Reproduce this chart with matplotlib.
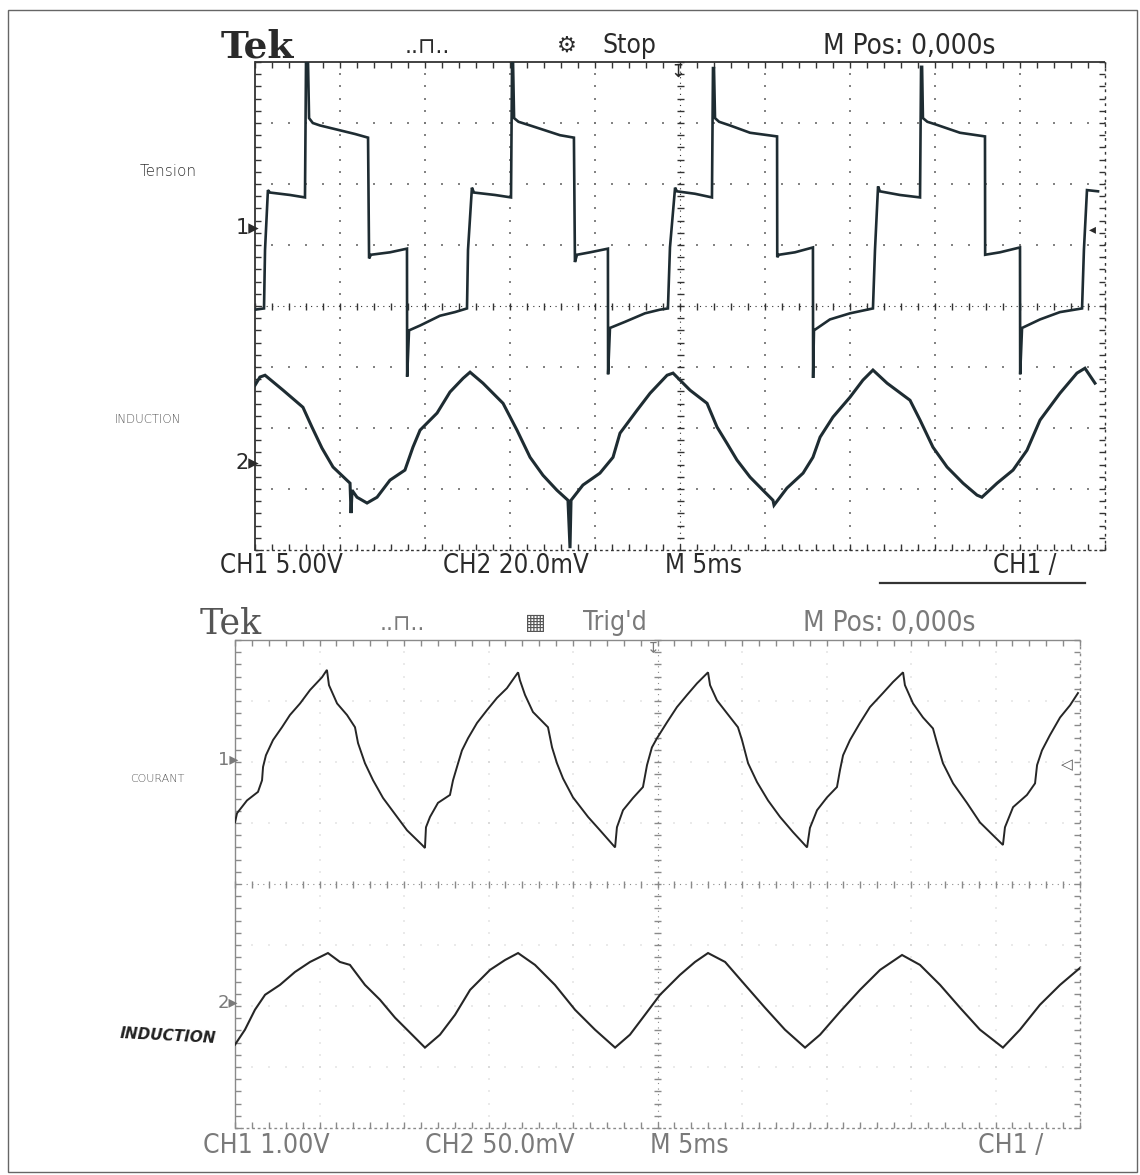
import matplotlib
matplotlib.use('Agg')
import matplotlib.pyplot as plt
import numpy as np
from matplotlib.collections import LineCollection
from matplotlib.patches import Rectangle
from matplotlib.lines import Line2D

# ---------------- DATA ----------------
# Upper screen : CH1 = "Tension" (V), CH2 = "Induction" (mV), time in ms
ch1_top_t = [0.00, 0.53, 0.59, 0.76, 0.88, 2.06, 2.94, 3.00, 3.12, 3.18, 3.40, 3.82, 5.00, 5.88, 6.65,
             6.71, 6.82, 7.94, 8.94, 8.95, 9.06, 9.71, 10.88, 11.76, 12.47,
             12.53, 12.76, 12.88, 14.12, 15.06, 15.12, 15.18, 15.24, 15.50, 16.18, 17.06, 17.94, 18.76,
             18.82, 18.94, 19.71, 20.76, 20.77, 20.88, 21.76, 22.94, 23.82, 24.29,
             24.41, 24.71, 24.82, 25.88, 26.88, 26.94, 27.00, 27.06, 27.30, 27.94, 29.12, 30.71,
             30.72, 30.82, 31.76, 32.82, 32.83, 32.88, 33.82, 35.00, 36.35,
             36.47, 36.65, 36.76, 37.94, 39.12, 39.18, 39.24, 39.29, 39.55, 40.00, 41.47, 42.94,
             42.95, 43.82, 45.00, 45.01, 45.12, 46.18, 47.35, 48.65,
             48.76, 48.94, 49.59]
ch1_top_v = [-6.7, -6.6, -1.8, 3.1, 2.9, 2.7, 2.5, 13.5, 13.5, 9.0, 8.6, 8.4, 8.0, 7.7, 7.4,
             -2.5, -2.2, -2.0, -1.7, -12.2, -8.4, -8.0, -7.2, -6.9, -6.6,
             -1.8, 3.3, 2.9, 2.7, 2.5, 13.5, 13.5, 9.0, 8.7, 8.4, 8.0, 7.6, 7.4,
             -2.8, -2.2, -2.0, -1.7, -12.0, -8.2, -7.7, -7.0, -6.7, -6.6,
             -1.6, 3.3, 3.0, 2.8, 2.5, 13.1, 13.1, 9.0, 8.7, 8.4, 7.8, 7.5,
             -2.4, -2.2, -2.0, -1.6, -12.3, -8.4, -7.5, -7.0, -6.6,
             -1.8, 3.4, 3.0, 2.7, 2.5, 13.2, 13.2, 9.0, 8.7, 8.5, 7.8, 7.5,
             -2.2, -2.0, -1.6, -12.0, -8.2, -7.5, -6.9, -6.6,
             -1.8, 3.1, 3.0]

ch2_top_t = [0.00, 0.29, 0.59, 1.65, 2.82, 3.35, 3.94, 4.59, 5.59, 5.65, 5.71, 6.00, 6.59, 7.18,
             7.94, 8.82, 9.29, 9.71, 10.71, 11.47, 12.24, 12.65, 13.41, 14.59, 15.41, 16.18,
             16.94, 17.76, 18.41, 18.53, 18.59, 19.29, 20.29, 21.06, 21.47, 22.47, 23.24,
             24.24, 24.59, 25.59, 26.59, 27.18, 27.76, 28.35, 29.12, 29.88, 30.47, 30.53,
             31.29, 32.24, 32.82, 33.24, 34.00, 35.00, 35.76, 36.35, 37.18, 38.53, 39.12,
             39.88, 40.71, 41.65, 42.47, 42.76, 43.65, 44.59, 45.41, 46.18, 47.35, 48.35,
             48.82, 49.41]
ch2_top_b = [25.2, 27.9, 28.5, 23.6, 18.0, 11.5, 4.6, -1.6, -6.9, -16.7, -9.2, -11.5, -13.4, -11.5,
             -5.9, -2.6, 4.9, 10.5, 16.1, 23.0, 27.5, 29.5, 25.9, 19.3, 10.5, 1.6,
             -4.3, -9.2, -12.5, -28.2, -12.5, -7.5, -3.6, 1.6, 9.5, 17.0, 22.6,
             28.5, 29.2, 23.6, 19.3, 11.5, 6.2, 0.7, -4.9, -9.2, -12.5, -14.1,
             -8.5, -3.6, 1.6, 8.2, 14.8, 21.3, 26.9, 30.2, 25.9, 20.3, 13.8,
             4.9, -1.6, -6.9, -10.8, -11.5, -6.9, -2.6, 3.9, 13.8, 22.6, 29.2,
             30.8, 25.9]

# Lower screen : CH1 = "Courant" (V), CH2 = "Induction" (mV), time in ms
ch1_bot_t = [0.00, 0.12, 0.71, 1.36, 1.60, 1.66, 1.83, 2.25, 2.78, 3.25, 3.85, 4.44, 5.15, 5.44,
             5.56, 6.04, 6.63, 7.10, 7.28, 7.69, 8.17, 8.76, 9.59, 10.18, 11.07, 11.24,
             11.30, 11.54, 12.01, 12.72, 12.90, 13.20, 13.43, 13.79, 14.32, 14.91, 15.50, 16.09, 16.75,
             16.86, 17.16, 17.63, 18.52, 18.76, 19.05, 19.41, 20.00, 20.89, 21.60, 22.49,
             22.60, 22.96, 23.55, 24.14, 24.38, 24.67, 24.97, 25.56, 26.15, 26.75, 27.34, 27.99,
             28.11, 28.52, 29.11, 29.76, 30.00, 30.36, 30.89, 31.54, 32.25, 33.02, 33.85,
             34.02, 34.44, 35.03, 35.62, 35.80, 35.98, 36.39, 36.98, 37.57, 38.34, 38.93, 39.53,
             39.64, 40.12, 40.71, 41.30, 41.54, 41.89, 42.49, 43.31, 44.08, 44.85, 45.44,
             45.56, 46.04, 46.86, 47.34, 47.46, 47.75, 48.22, 48.82, 49.41, 49.88]
ch1_bot_i = [-1.02, -0.87, -0.66, -0.52, -0.33, -0.11, 0.08, 0.33, 0.54, 0.74, 0.93, 1.15, 1.36, 1.48,
             1.23, 0.93, 0.74, 0.54, 0.28, -0.05, -0.33, -0.62, -0.93, -1.15, -1.39, -1.44,
             -1.10, -0.93, -0.70, -0.57, -0.33, -0.05, 0.16, 0.36, 0.61, 0.82, 1.02, 1.18, 1.44,
             1.31, 1.07, 0.79, 0.54, 0.21, -0.05, -0.30, -0.61, -0.93, -1.15, -1.43,
             -1.10, -0.82, -0.62, -0.44, -0.08, 0.21, 0.36, 0.62, 0.87, 1.07, 1.26, 1.44,
             1.23, 0.98, 0.77, 0.54, 0.33, -0.05, -0.36, -0.66, -0.93, -1.18, -1.43,
             -1.11, -0.82, -0.61, -0.44, -0.16, 0.08, 0.33, 0.61, 0.87, 1.10, 1.28, 1.44,
             1.23, 0.93, 0.70, 0.52, 0.28, -0.05, -0.38, -0.70, -1.02, -1.23, -1.39,
             -1.10, -0.77, -0.57, -0.38, -0.08, 0.16, 0.41, 0.70, 0.90, 1.10]

ch2_bot_t = [0.00, 0.59, 1.18, 1.78, 2.66, 3.55, 4.44, 5.50, 6.21, 6.80, 7.69, 8.58, 9.47, 10.36,
             11.24, 12.13, 13.02, 13.91, 15.09, 15.98, 16.75, 17.75, 18.93, 20.12, 21.30,
             22.49, 23.37, 24.26, 25.15, 26.33, 27.22, 27.99, 29.00, 30.18, 31.36, 32.54,
             33.73, 34.62, 35.80, 36.98, 38.17, 39.47, 40.53, 41.72, 42.90, 44.08, 45.44,
             46.45, 47.63, 48.82, 50.00]
ch2_bot_b = [-32.7, -20.4, -4.1, 8.2, 16.3, 26.9, 35.1, 42.4, 35.1, 32.7, 16.3, 4.1, -10.6, -22.9,
             -35.1, -24.5, -8.2, 12.2, 28.6, 36.7, 42.4, 32.7, 16.3, -4.1, -20.4,
             -35.1, -24.5, -8.2, 8.2, 24.5, 35.1, 42.4, 35.1, 16.3, -2.4, -20.4,
             -35.1, -24.5, -5.7, 12.2, 28.6, 40.8, 32.7, 16.3, -2.4, -20.4, -35.1,
             -20.4, 0.0, 16.3, 30.2]

# scope settings: volts/div and ground-marker position (div from centre)
top_ch1_scale, top_ch1_pos = 5.0, 1.28     # V/div
top_ch2_scale, top_ch2_pos = 20.0, -2.56   # mV/div
bot_ch1_scale, bot_ch1_pos = 1.0, 2.03     # V/div
bot_ch2_scale, bot_ch2_pos = 50.0, -1.98   # mV/div
time_span = 50.0                            # ms (10 div x 5 ms)

# ---------------- FIGURE ----------------
W, H = 1140, 1175
fig = plt.figure(figsize=(W / 100, H / 100), dpi=100)
fig.patch.set_facecolor('white')


def fx(x):
    return x / W


def fy(y):
    return 1 - y / H


def rect(l, t, r, b):
    return [fx(l), fy(b), (r - l) / W, (b - t) / H]


def graticule(ax, wpx, hpx, fcol, gcol, dot_alpha, lw=1.3):
    ax.set_xlim(0, 10)
    ax.set_ylim(-4, 4)
    ax.axis('off')
    px = 10.0 / wpx
    py = 8.0 / hpx
    tl = 6
    xs = np.arange(0, 10.001, 0.2)
    ys = np.arange(-4, 4.001, 0.2)
    segs = []
    for x in xs:
        segs.append([(x, 4), (x, 4 - tl * py)])
        segs.append([(x, -4), (x, -4 + tl * py)])
        segs.append([(x, -3.5 * py), (x, 3.5 * py)])
    for y in ys:
        segs.append([(0, y), (tl * px, y)])
        segs.append([(10, y), (10 - tl * px, y)])
        segs.append([(5 - 3.5 * px, y), (5 + 3.5 * px, y)])
    ax.add_collection(LineCollection(segs, colors=fcol, linewidths=1.0, clip_on=False))
    ax.plot([0, 10], [4, 4], color=fcol, lw=lw, clip_on=False, solid_capstyle='butt')
    ax.plot([0, 0], [-4, 4], color=fcol, lw=lw, clip_on=False)
    ax.plot([0, 10], [-4, -4], color=fcol, lw=1.0, ls=(0, (2, 2)), clip_on=False)
    ax.plot([10, 10], [-4, 4], color=fcol, lw=1.0, ls=(0, (2, 3)), clip_on=False)
    ax.plot([0, 10], [0, 0], color=fcol, lw=0.8, ls=(0, (1, 4)), clip_on=False)
    ax.plot([5, 5], [-4, 4], color=fcol, lw=0.8, ls=(0, (1, 4)), clip_on=False)
    dx, dy = [], []
    for i in range(1, 10):
        if i == 5:
            continue
        dx += [i] * len(ys)
        dy += list(ys)
    for j in range(-3, 4):
        if j == 0:
            continue
        dx += list(xs)
        dy += [j] * len(xs)
    ax.scatter(dx, dy, s=2.5, marker='s', color=gcol, alpha=dot_alpha, linewidths=0)


def trace_axes(r, scale, pos, t, v, col, lw):
    ax = fig.add_axes(r)
    ax.set_xlim(0, time_span)
    ax.set_ylim((-4 - pos) * scale, (4 - pos) * scale)
    ax.axis('off')
    ax.patch.set_alpha(0)
    ax.plot(t, v, color=col, lw=lw, solid_joinstyle='miter')
    return ax


scope_font = dict(family='DejaVu Sans', fontstretch='condensed', fontweight='light')

# ---------- upper screen ----------
R1 = rect(255, 62, 1105, 550)
g1 = fig.add_axes(R1)
graticule(g1, 850, 488, '#333333', '#777777', 0.9)
tcol = '#1e2c32'
trace_axes(R1, top_ch1_scale, top_ch1_pos, ch1_top_t, ch1_top_v, tcol, 1.9)
trace_axes(R1, top_ch2_scale, top_ch2_pos, ch2_top_t, ch2_top_b, tcol, 2.2)

txt1 = '#2a2a2a'
fig.text(fx(221), fy(47), 'Tek', family='DejaVu Serif', fontsize=27, fontweight='bold', color=txt1,
         va='center', ha='left')
fig.text(fx(405), fy(47), '..⊓..', color=txt1, fontsize=16, va='center', ha='left', family='DejaVu Sans')
fig.text(fx(557), fy(46), '⚙', color=txt1, fontsize=16, va='center', ha='left', family='DejaVu Sans')
fig.text(fx(602), fy(46), 'Stop', color=txt1, fontsize=19, va='center', ha='left', **scope_font)
fig.text(fx(823), fy(46), 'M Pos: 0,000s', color=txt1, fontsize=20, va='center', ha='left', **scope_font)
fig.text(fx(220), fy(566), 'CH1 5.00V', color=txt1, fontsize=18.5, va='center', ha='left', **scope_font)
fig.text(fx(443), fy(566), 'CH2 20.0mV', color=txt1, fontsize=18.5, va='center', ha='left', **scope_font)
fig.text(fx(665), fy(566), 'M 5ms', color=txt1, fontsize=18.5, va='center', ha='left', **scope_font)
fig.text(fx(993), fy(566), 'CH1 /', color=txt1, fontsize=18.5, va='center', ha='left', **scope_font)
fig.add_artist(Line2D([fx(880), fx(1085)], [fy(583), fy(583)], color='#333333', lw=1.6))

fig.text(fx(259), fy(228), '1▸', color=txt1, fontsize=15, va='center', ha='right', family='DejaVu Sans')
fig.text(fx(259), fy(463), '2▸', color=txt1, fontsize=15, va='center', ha='right', family='DejaVu Sans')
fig.text(fx(1092), fy(229), '◂', color=txt1, fontsize=10, va='center', ha='center', family='DejaVu Sans')
fig.text(fx(678), fy(72), '↧', color=txt1, fontsize=13, va='center', ha='center', family='DejaVu Sans')

fig.text(fx(140), fy(172), 'Tension', color='#333333', fontsize=11, va='center', ha='left',
         family='DejaVu Sans', fontweight='light')
fig.text(fx(115), fy(419), 'INDUCTION', color='#555555', fontsize=8.5, va='center', ha='left',
         family='DejaVu Sans', fontweight='light')

# ---------- lower screen ----------
R2 = rect(235, 640, 1080, 1128)
g2 = fig.add_axes(R2)
graticule(g2, 845, 488, '#8a8a8a', '#bbbbbb', 0.3, lw=1.0)
bcol = '#262626'
trace_axes(R2, bot_ch1_scale, bot_ch1_pos, ch1_bot_t, ch1_bot_i, bcol, 1.4)
trace_axes(R2, bot_ch2_scale, bot_ch2_pos, ch2_bot_t, ch2_bot_b, bcol, 1.5)

txt2 = '#7a7a7a'
fig.text(fx(200), fy(624), 'Tek', family='DejaVu Serif', fontsize=25, color='#555555', va='center', ha='left')
fig.text(fx(380), fy(624), '..⊓..', color=txt2, fontsize=16, va='center', ha='left', family='DejaVu Sans')
fig.text(fx(525), fy(623), '▦', color='#555555', fontsize=16, va='center', ha='left', family='DejaVu Sans')
fig.text(fx(583), fy(623), "Trig'd", color=txt2, fontsize=19, va='center', ha='left', **scope_font)
fig.text(fx(803), fy(623), 'M Pos: 0,000s', color=txt2, fontsize=20, va='center', ha='left', **scope_font)
fig.text(fx(203), fy(1146), 'CH1 1.00V', color=txt2, fontsize=19, va='center', ha='left', **scope_font)
fig.text(fx(425), fy(1146), 'CH2 50.0mV', color=txt2, fontsize=19, va='center', ha='left', **scope_font)
fig.text(fx(650), fy(1146), 'M 5ms', color=txt2, fontsize=19, va='center', ha='left', **scope_font)
fig.text(fx(978), fy(1146), 'CH1 /', color=txt2, fontsize=19, va='center', ha='left', **scope_font)

fig.text(fx(238), fy(760), '1▸', color=txt2, fontsize=13, va='center', ha='right', family='DejaVu Sans')
fig.text(fx(238), fy(1003), '2▸', color=txt2, fontsize=13, va='center', ha='right', family='DejaVu Sans')
fig.text(fx(1067), fy(765), '◁', color='#555555', fontsize=11, va='center', ha='center', family='DejaVu Sans')
fig.text(fx(653), fy(648), '↧', color=txt2, fontsize=11, va='center', ha='center', family='DejaVu Sans')

fig.text(fx(130), fy(779), 'COURANT', color='#555555', fontsize=8, va='center', ha='left',
         family='DejaVu Sans', fontweight='light')
fig.text(fx(120), fy(1036), 'INDUCTION', color='#222222', fontsize=11, fontweight='bold', va='center',
         ha='left', family='DejaVu Sans', rotation=-3, fontstyle='italic')

# page frame of the scan
fig.add_artist(Rectangle((fx(8), fy(1172)), (1137 - 8) / W, (1172 - 10) / H, fill=False,
                         edgecolor='#666666', lw=1.0, transform=fig.transFigure))

fig.savefig('out.png', dpi=100, facecolor='white')
